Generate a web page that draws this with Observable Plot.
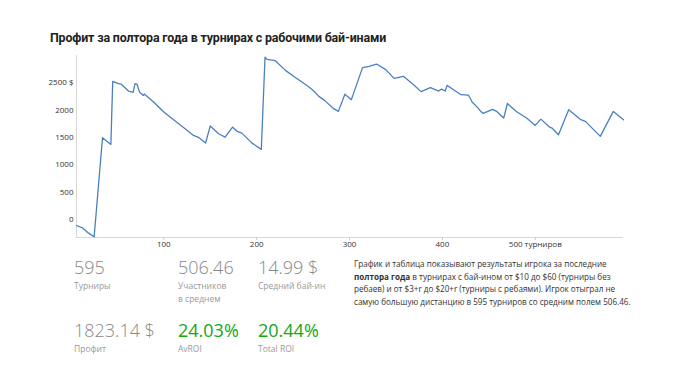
<!DOCTYPE html>
<html>
<head>
<meta charset="utf-8">
<script src="https://cdn.jsdelivr.net/npm/d3@7"></script>
<script src="https://cdn.jsdelivr.net/npm/@observablehq/plot@0.6"></script>
<style>
  body { margin: 0; background: #fff; }
  #wrap { position: relative; width: 700px; height: 367px; overflow: hidden; font-family: "Open Sans", sans-serif; }
  #title { position: absolute; left: 50px; top: 30px; font: bold 12.4px Roboto, sans-serif; color: #222; white-space: nowrap; letter-spacing: -0.15px; }
  #chart { position: absolute; left: 0; top: 48px; }
  .num { position: absolute; font-size: 18px; font-weight: 300; line-height: 18px; color: #888; white-space: nowrap; }
  .num.green { color: #14a814; font-weight: 400; }
  .lab { position: absolute; font-size: 8.5px; line-height: 13px; color: #999; white-space: nowrap; }
  #note { position: absolute; left: 354px; top: 258px; font-size: 8.1px; line-height: 12.7px; color: #333; white-space: nowrap; }
</style>
</head>
<body>
<div id="wrap">
  <div id="title">Профит за полтора года в турнирах с рабочими бай-инами</div>
  <div id="chart"></div>
  <div id="stats"></div>
  <div id="note">График и таблица показывают результаты игрока за последние<br><b>полтора года</b> в турнирах с бай-ином от $10 до $60 (турниры без<br>ребаев) и от $3+r до $20+r (турниры с ребаями). Игрок отыграл не<br>самую большую дистанцию в 595 турниров со средним полем 506.46.</div>
</div>
<script>
const tournaments = [6,13,19,25,34,43,45,51,54,62,67,69,71,74,78,79,89,100,116,123,132,138,145,150,159,166,174,179,184,195,205,209,211,220,231,242,253,260,267,273,283,288,295,302,314,321,329,339,348,358,369,377,387,396,399,403,405,412,420,428,432,438,442,444,454,458,466,470,480,491,500,506,515,518,525,536,549,554,570,584,595];
const profit = [-104,-153,-244,-310,1496,1374,2523,2482,2475,2347,2323,2482,2475,2323,2268,2292,2146,1964,1752,1660,1538,1496,1398,1710,1569,1507,1690,1611,1580,1398,1283,2967,2925,2901,2724,2591,2463,2372,2250,2177,2026,1976,2290,2190,2774,2797,2839,2737,2578,2615,2463,2336,2409,2347,2383,2347,2451,2372,2281,2274,2146,2044,1964,1940,2013,1982,1854,2120,1970,1850,1721,1835,1695,1672,1551,2007,1825,1794,1520,1976,1823];
const xTicks = [100,200,300,400,500];
const yTicks = [0,500,1000,1500,2000,2500];
const statValues = ["595","506.46","14.99 $","1823.14 $","24.03%","20.44%"];
const statLabels = ["Турниры","Участников<br>в среднем","Средний бай-ин","Профит","AvROI","Total ROI"];
const statGreen = [false,false,false,false,true,true];

const data = tournaments.map((t,i) => ({t, p: profit[i]}));
const yMin = -323, yMax = 2995;

const chart = Plot.plot({
  width: 700, height: 209,
  marginLeft: 76, marginRight: 77, marginTop: 7, marginBottom: 20,
  style: {fontFamily: "'Open Sans', sans-serif", fontSize: "8px", color: "#333", background: "transparent"},
  x: {domain: [6, 595]},
  y: {domain: [yMin, yMax]},
  marks: [
    Plot.ruleX([6], {stroke: "#d8d8d8"}),
    Plot.ruleY([yMin], {stroke: "#d8d8d8"}),
    Plot.axisY({ticks: yTicks, tickSize: 0, tickPadding: 3, label: null, tickFormat: d => d === 2500 ? "2500 $" : String(d)}),
    Plot.axisX({ticks: xTicks, tickSize: 3, tickPadding: 1, label: null, stroke: "#ccc", fill: "#333", tickFormat: d => d === 500 ? "500 турниров" : String(d)}),
    Plot.line(data, {x: "t", y: "p", stroke: "#4a80c0", strokeWidth: 1.3})
  ]
});
document.getElementById("chart").appendChild(chart);

const stats = document.getElementById("stats");
const colX = [74, 178, 258];
const rowY = [258, 321];
statValues.forEach((v, i) => {
  const c = i % 3, r = Math.floor(i / 3);
  const n = document.createElement("div");
  n.className = "num" + (statGreen[i] ? " green" : "");
  n.style.left = colX[c] + "px"; n.style.top = rowY[r] + "px";
  n.textContent = v;
  stats.appendChild(n);
  const l = document.createElement("div");
  l.className = "lab";
  l.style.left = colX[c] + "px"; l.style.top = (rowY[r] + 21) + "px";
  l.innerHTML = statLabels[i];
  stats.appendChild(l);
});
</script>
</body>
</html>
